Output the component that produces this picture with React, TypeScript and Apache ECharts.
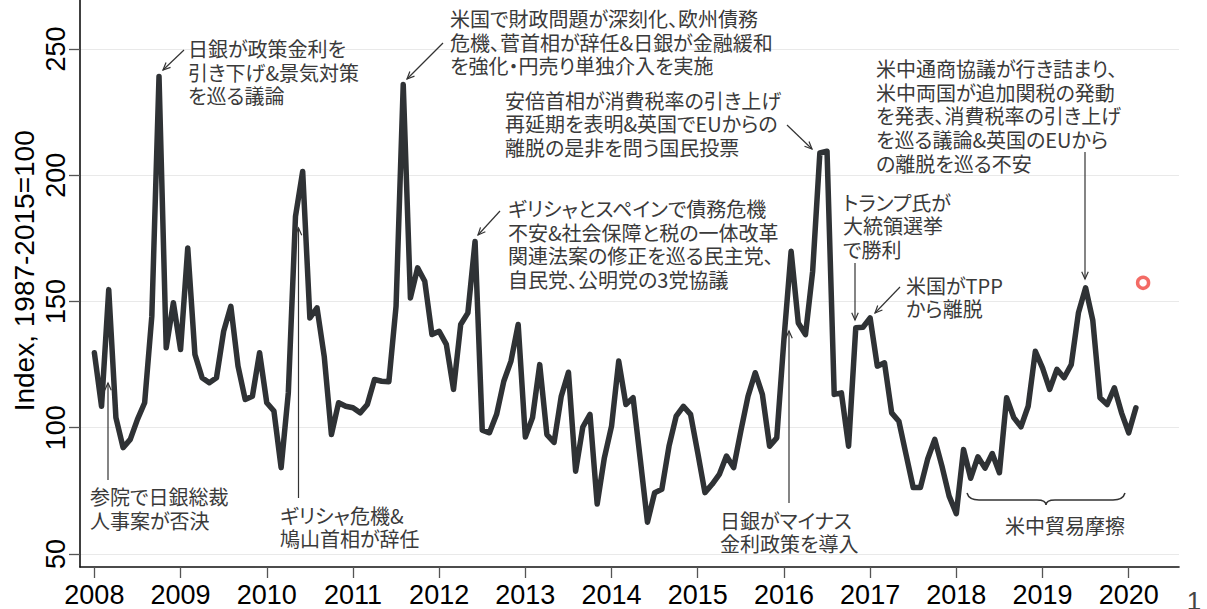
import React, { useEffect, useRef } from "react";
import * as echarts from "echarts";

// ---- Data ----
// Monthly Japan policy uncertainty index, Jan 2008 – Feb 2020
const startYear = 2008;
const values2008 = [129.7, 108.5, 154.7, 104, 92.1, 95.4, 103.3, 109.9, 144.2, 239.1, 131.7, 149.5];
const values2009 = [131, 171.2, 129, 119.8, 117.8, 119.8, 138.2, 148.1, 124.4, 111.2, 112.5, 129.7];
const values2010 = [109.9, 106.6, 84.2, 113.8, 183.7, 201.5, 143.5, 147.5, 128.3, 97.3, 109.9, 108.5];
const values2011 = [107.9, 105.9, 109.2, 119.1, 118.4, 118.2, 148.1, 235.9, 151.4, 163.3, 158, 136.9];
const values2012 = [138.2, 133, 115.2, 140.9, 145.5, 173.8, 99, 98, 105.3, 118.4, 126.4, 140.9];
const values2013 = [96.3, 104, 125, 97.3, 94.2, 112.5, 122, 82.8, 100.3, 105.3, 69.8, 88.1];
const values2014 = [100.6, 126.4, 109.2, 111.9, 87.5, 62.6, 74.3, 75.6, 92.7, 104.6, 108.5, 105.3];
const values2015 = [90.1, 74.3, 77.6, 81.5, 88.8, 84.2, 98.7, 112.5, 121.8, 113.2, 92.7, 96];
const values2016 = [135, 169.9, 141.5, 136.9, 162, 208.8, 209.5, 113.2, 113.8, 92.7, 139.6, 139.8];
const values2017 = [143.5, 124.4, 125.7, 105.9, 102.6, 89.4, 76.3, 76.3, 87.5, 95.4, 84.8, 72.9];
const values2018 = [66, 91.4, 80, 88.5, 84, 89.8, 82.2, 111.9, 104, 100.4, 108.5, 130.3];
const values2019 = [123.7, 115.2, 123.1, 119.8, 125, 145.5, 155.4, 142.5, 111.9, 109.2, 115.8, 105.9];
const values2020 = [98, 107.9];
const seriesValues = [
  ...values2008, ...values2009, ...values2010, ...values2011, ...values2012, ...values2013,
  ...values2014, ...values2015, ...values2016, ...values2017, ...values2018, ...values2019, ...values2020,
];
// Latest (preliminary) point shown as a red hollow circle
const latestPoint = { month: "2020-03", value: 157.4 };

const yTickValues = [50, 100, 150, 200, 250];
const axisStartMonth = "2007-11";
const axisEndMonth = "2020-08";

// Month categories across the axis range
function buildMonths(from: string, to: string): string[] {
  const out: string[] = [];
  let [y, m] = from.split("-").map(Number);
  const [ty, tm] = to.split("-").map(Number);
  while (y < ty || (y === ty && m <= tm)) {
    out.push(`${y}-${String(m).padStart(2, "0")}`);
    m++;
    if (m > 12) { m = 1; y++; }
  }
  return out;
}
const months = buildMonths(axisStartMonth, axisEndMonth);
const dataMonths = buildMonths(`${startYear}-01`, "2020-02");

// ---- Annotations (text + layout) ----
const annotations = [
  { text: "日銀が政策金利を\n引き下げ&景気対策\nを巡る議論", x: 188, y: 48.3 },
  { text: "米国で財政問題が深刻化、欧州債務\n危機、菅首相が辞任&日銀が金融緩和\nを強化・円売り単独介入を実施", x: 450, y: 18.3 },
  { text: "安倍首相が消費税率の引き上げ\n再延期を表明&英国でEUからの\n離脱の是非を問う国民投票", x: 505, y: 100 },
  { text: "ギリシャとスペインで債務危機\n不安&社会保障と税の一体改革\n関連法案の修正を巡る民主党、\n自民党、公明党の3党協議", x: 508, y: 208.3 },
  { text: "米中通商協議が行き詰まり、\n米中両国が追加関税の発動\nを発表、消費税率の引き上げ\nを巡る議論&英国のEUから\nの離脱を巡る不安", x: 876, y: 68.3 },
  { text: "トランプ氏が\n大統領選挙\nで勝利", x: 843, y: 202 },
  { text: "米国がTPP\nから離脱", x: 906, y: 285 },
  { text: "参院で日銀総裁\n人事案が否決", x: 90, y: 496.7 },
  { text: "ギリシャ危機&\n鳩山首相が辞任", x: 280, y: 515 },
  { text: "日銀がマイナス\n金利政策を導入", x: 720, y: 520 },
  { text: "米中貿易摩擦", x: 1005, y: 525 },
];
const arrows = [
  [184, 50, 163, 70],
  [443, 43, 407, 79],
  [787, 125, 812, 149],
  [500, 211, 478, 235],
  [1085, 152, 1085, 279],
  [855, 263, 855, 320],
  [900, 287, 875, 313],
  [108, 480, 108, 383],
  [298.5, 498, 298.5, 228],
  [789, 503, 789, 331],
];

const CJK = '"Noto Sans CJK JP", "Noto Sans CJK SC", sans-serif';
const LATIN = '"Liberation Sans", Arial, sans-serif';
const annColor = "#3a3a3a";
const lineH = 23.8;

echarts.graphic.registerShape(
  "brace",
  echarts.graphic.extendPath(
    "M0,-7 Q2,0 12,0 L70,0 Q79,0 79,5 Q79,0 88,0 L146,0 Q156,0 158,-7",
    {}
  )
);

function arrowEls(x1: number, y1: number, x2: number, y2: number) {
  const ang = Math.atan2(y2 - y1, x2 - x1);
  const L = 8;
  const a = 0.42;
  const p1 = [x2 - L * Math.cos(ang - a), y2 - L * Math.sin(ang - a)];
  const p2 = [x2 - L * Math.cos(ang + a), y2 - L * Math.sin(ang + a)];
  return [
    { type: "line", shape: { x1, y1, x2, y2 }, style: { stroke: "#333", lineWidth: 1.2 }, z: 20 },
    { type: "polyline", shape: { points: [p1, [x2, y2], p2] }, style: { stroke: "#333", lineWidth: 1.2, fill: null }, z: 20 },
  ];
}

export default function App() {
  const ref = useRef<HTMLDivElement>(null);
  useEffect(() => {
    if (!ref.current) return;
    const chart = echarts.init(ref.current, undefined, { renderer: "svg" });
    const isJan = (_i: number, v: string) => v.endsWith("-01");

    const graphics: any[] = [];
    annotations.forEach((a) => {
      graphics.push({
        type: "text",
        x: a.x,
        y: a.y - lineH / 2,
        z: 20,
        style: {
          text: a.text,
          font: `20px ${CJK}`,
          fill: annColor,
          lineHeight: lineH,
          align: "left",
          verticalAlign: "top",
        },
      });
    });
    arrows.forEach(([x1, y1, x2, y2]) => graphics.push(...arrowEls(x1, y1, x2, y2)));
    graphics.push({
      type: "brace",
      x: 967,
      y: 500,
      z: 20,
      style: { stroke: "#333", lineWidth: 1.5, fill: null },
    });
    graphics.push({
      type: "text",
      x: 24,
      y: 270.8,
      rotation: Math.PI / 2,
      z: 20,
      style: {
        text: "Index, 1987-2015=100",
        font: `28px ${LATIN}`,
        fill: "#000",
        align: "center",
        verticalAlign: "middle",
      },
    });
    graphics.push({
      type: "text",
      x: 1194,
      y: 601,
      z: 20,
      style: { text: "1", font: `26px ${LATIN}`, fill: "#444", align: "center", verticalAlign: "middle" },
    });

    chart.setOption({
      animation: false,
      backgroundColor: "#fff",
      grid: { left: 80, top: 0, right: 28, bottom: 42, containLabel: false },
      xAxis: {
        type: "category",
        data: months,
        boundaryGap: false,
        axisLine: { lineStyle: { color: "#111", width: 1.6 } },
        axisTick: { interval: isJan, length: 11, lineStyle: { color: "#555", width: 1.3 } },
        axisLabel: {
          interval: isJan,
          formatter: (v: string) => v.slice(0, 4),
          fontSize: 27,
          fontFamily: LATIN,
          color: "#000",
          margin: 14,
        },
        splitLine: { show: false },
      },
      yAxis: {
        type: "value",
        min: 44.85,
        max: 269.4,
        axisLine: { show: true, lineStyle: { color: "#111", width: 1.6 } },
        axisTick: { show: true, length: 11, customValues: yTickValues, lineStyle: { color: "#555", width: 1.3 } },
        axisLabel: {
          customValues: yTickValues,
          rotate: 90,
          fontSize: 27,
          fontFamily: LATIN,
          color: "#000",
          margin: 11,
        },
        splitLine: { show: true, lineStyle: { color: "#e9e9e9", width: 1.2 } },
      },
      series: [
        {
          type: "line",
          data: seriesValues.map((v, i) => [dataMonths[i], v]),
          symbol: "none",
          lineStyle: { color: "#2f3235", width: 5.5, join: "round", cap: "round" },
          z: 5,
        },
        {
          type: "scatter",
          data: [[latestPoint.month, latestPoint.value]],
          symbol: "circle",
          symbolSize: 11,
          itemStyle: { color: "#fff", borderColor: "#f0463f", borderWidth: 3.5 },
          z: 6,
        },
      ],
      graphic: graphics,
    });
    return () => chart.dispose();
  }, []);
  return (
    <>
      <style>{`svg text { font-feature-settings: "palt" 1 !important; font-variant-east-asian: proportional-width !important; }`}</style>
      <div
        ref={ref}
        style={{ position: "fixed", left: 0, top: 0, width: 1207, height: 609, background: "#fff" }}
      />
    </>
  );
}
